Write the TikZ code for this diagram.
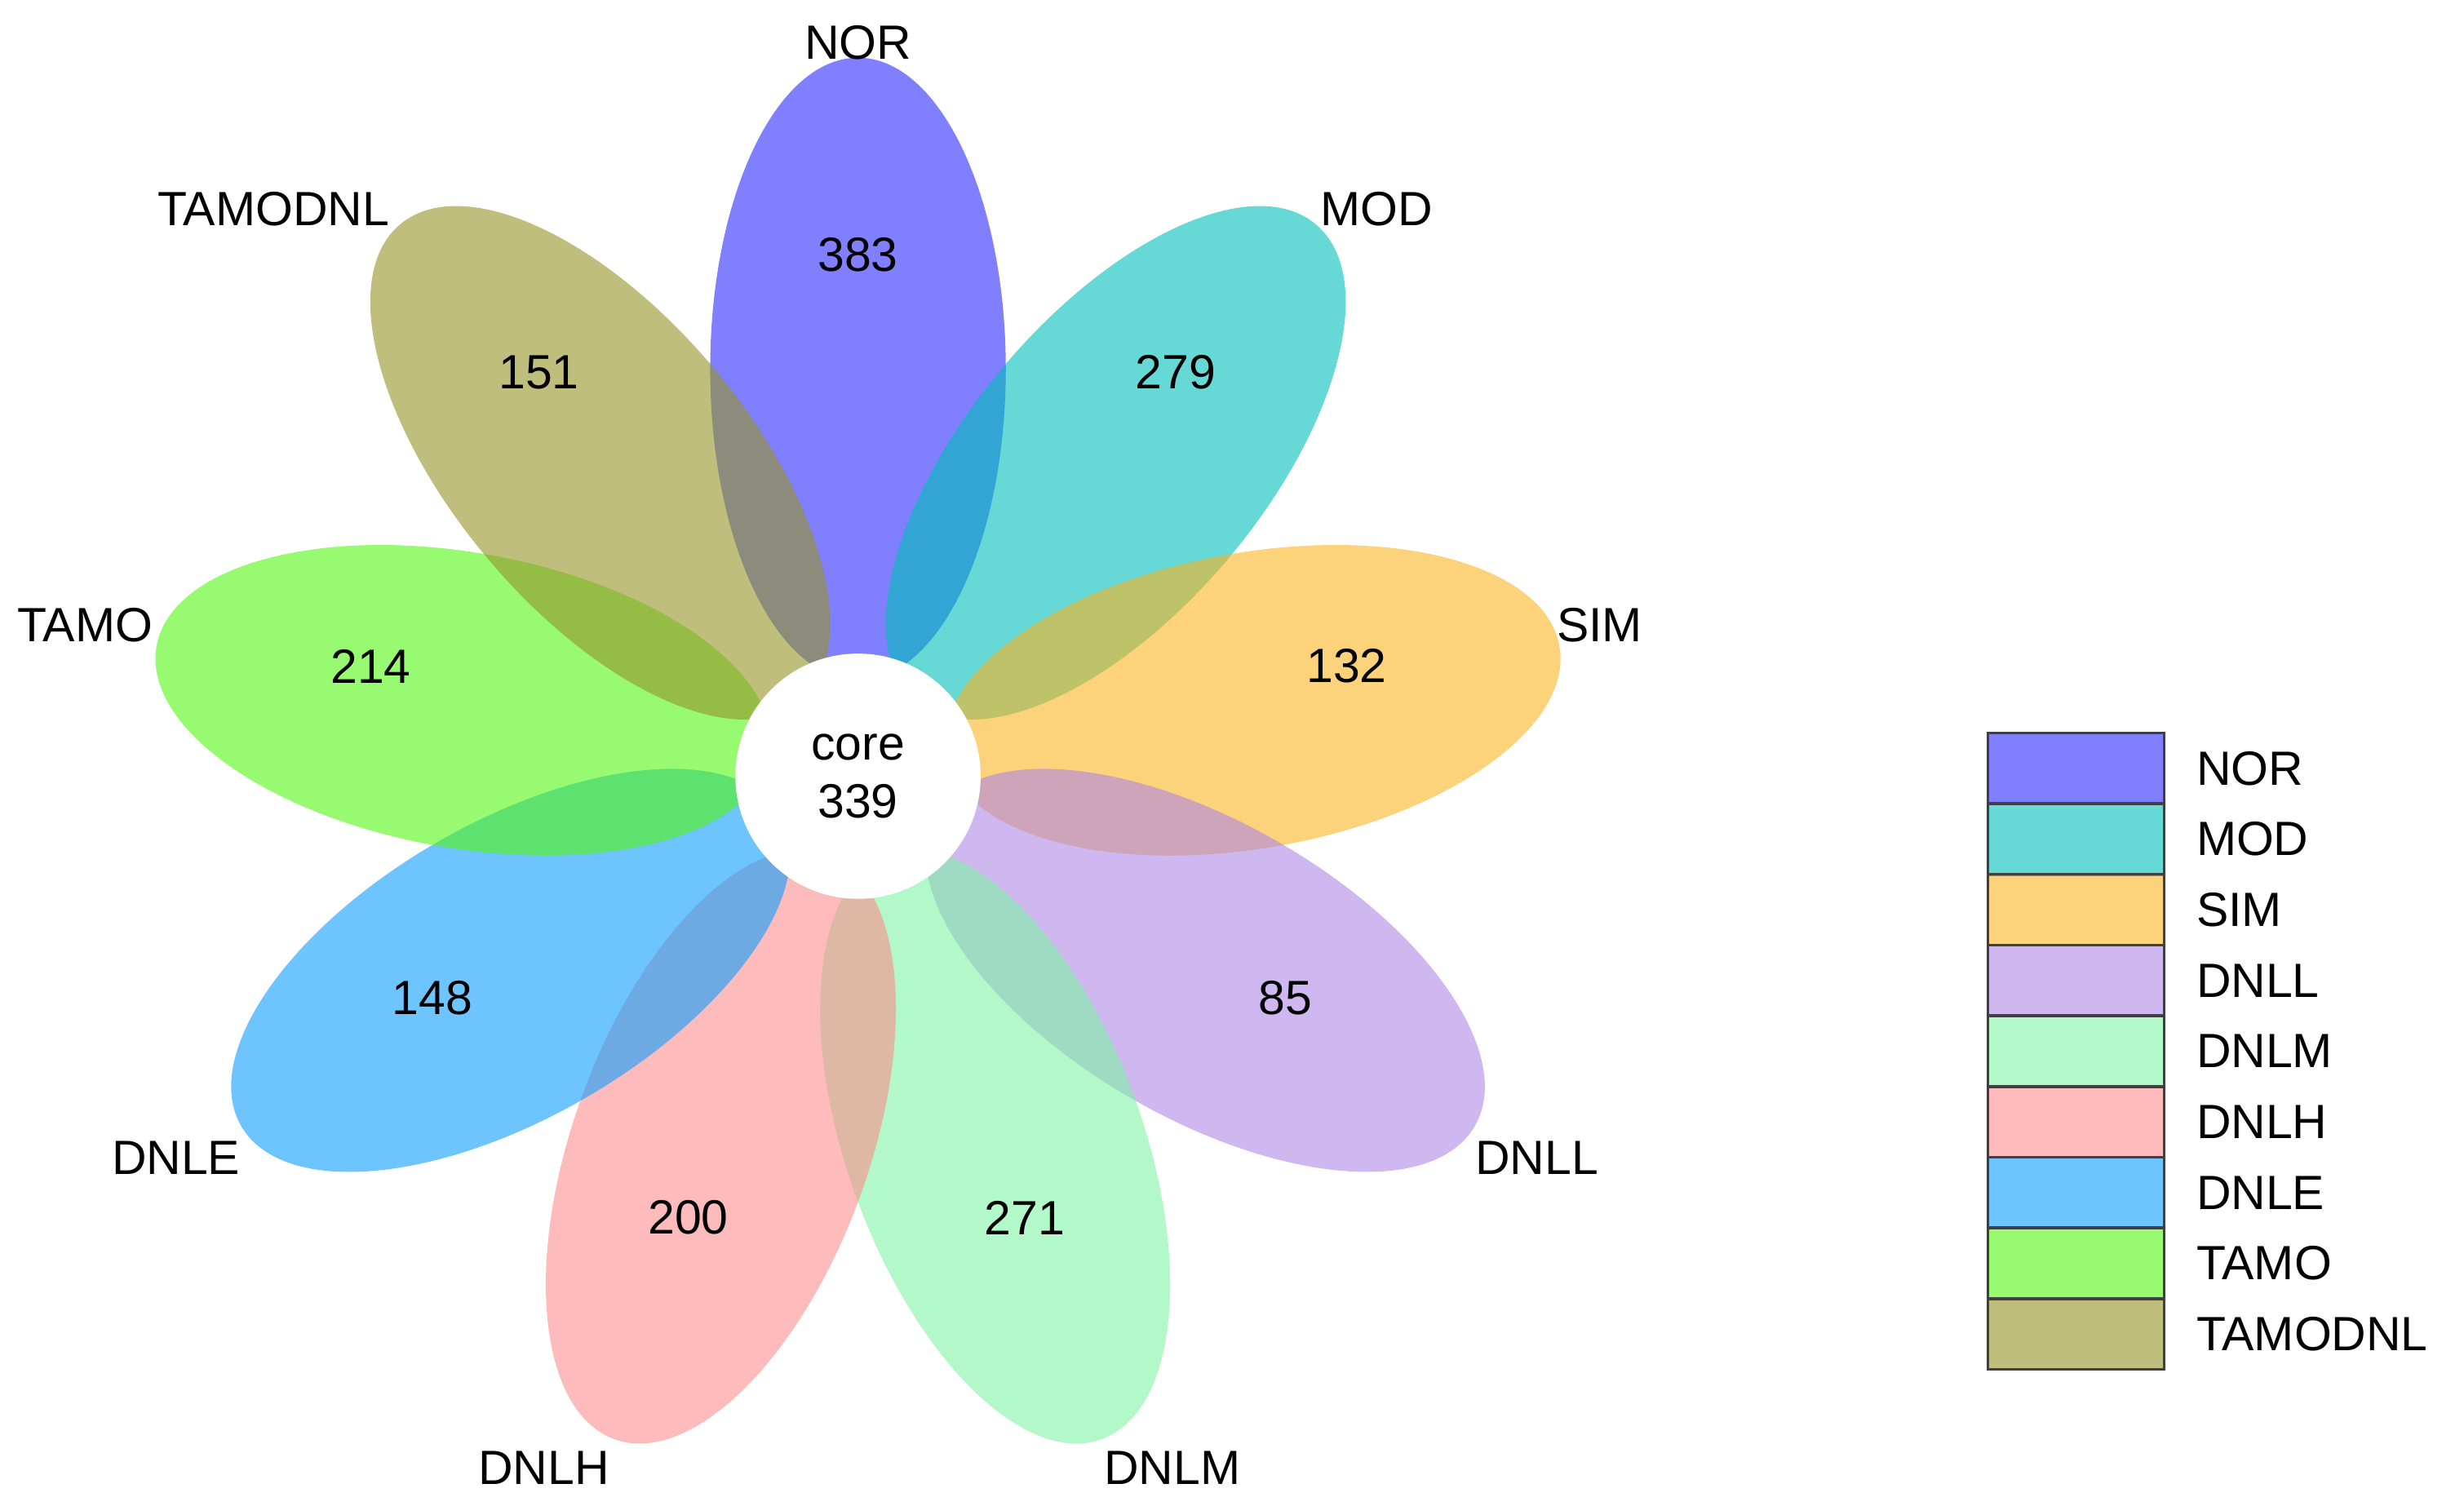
\documentclass[tikz,border=0pt]{standalone}
\usepackage{fontspec}
\setmainfont{Liberation Sans}
\usetikzlibrary{shapes.geometric,calc}
\definecolor{cNOR}{RGB}{43,43,255}
\definecolor{cMOD}{RGB}{0,190,185}
\definecolor{cSIM}{RGB}{250,180,33}
\definecolor{cDNLL}{RGB}{175,135,230}
\definecolor{cDNLM}{RGB}{127,243,163}
\definecolor{cDNLH}{RGB}{252,142,142}
\definecolor{cDNLE}{RGB}{13,157,255}
\definecolor{cTAMO}{RGB}{83,247,17}
\definecolor{cTAMODNL}{RGB}{148,147,38}
\begin{document}
\begin{tikzpicture}[x=0.01cm,y=-0.01cm,
  petal/.style={ellipse,minimum width=3.96cm,minimum height=1.88cm,inner sep=0,fill=#1,fill opacity=0.6,draw=none},
  lab/.style={font=\fontsize{8.7}{10}\selectfont,inner sep=0},
  leg/.style={draw=black!75,line width=0.5pt,fill=#1,fill opacity=0.6,minimum width=1.12cm,minimum height=0.45cm,inner sep=0}]
\useasboundingbox (0,0) rectangle (1568,958);
\coordinate (c) at (546,490);
\foreach \n/\a in {NOR/90,MOD/50,SIM/10,DNLL/-30,DNLM/-70,DNLH/-110,DNLE/-150,TAMO/170,TAMODNL/130}{
  \node[petal=c\n,rotate=\a] (p\n) at ($(c)+(\a:2.55cm)$) {};
}
\node[circle,fill=white,minimum size=1.56cm,inner sep=0,align=center,font=\fontsize{8.7}{10.5}\selectfont] (core) at (546,494) {core\\339};
\foreach \n/\x/\y in {NOR/546/27,MOD/876/133,SIM/1018/398,DNLL/978/737,DNLM/746/934,DNLH/346/934,DNLE/112/737,TAMO/54/398,TAMODNL/174/133}{
  \node[lab] (l\n) at (\x,\y) {\n};
}
\foreach \v/\x/\y in {383/546/162,279/748/237,132/857/424,85/818/635,271/652/775,200/438/775,148/275/635,214/236/424,151/343/237}{
  \node[lab] (v\v) at (\x,\y) {\v};
}
\foreach \n [count=\i from 0] in {NOR,MOD,SIM,DNLL,DNLM,DNLH,DNLE,TAMO,TAMODNL}{
  \node[leg=c\n] (b\n) at (1321,{489+45*\i}) {};
  \node[lab,anchor=west] (t\n) at (1397,{489+45*\i}) {\n};
}
\end{tikzpicture}
\end{document}
